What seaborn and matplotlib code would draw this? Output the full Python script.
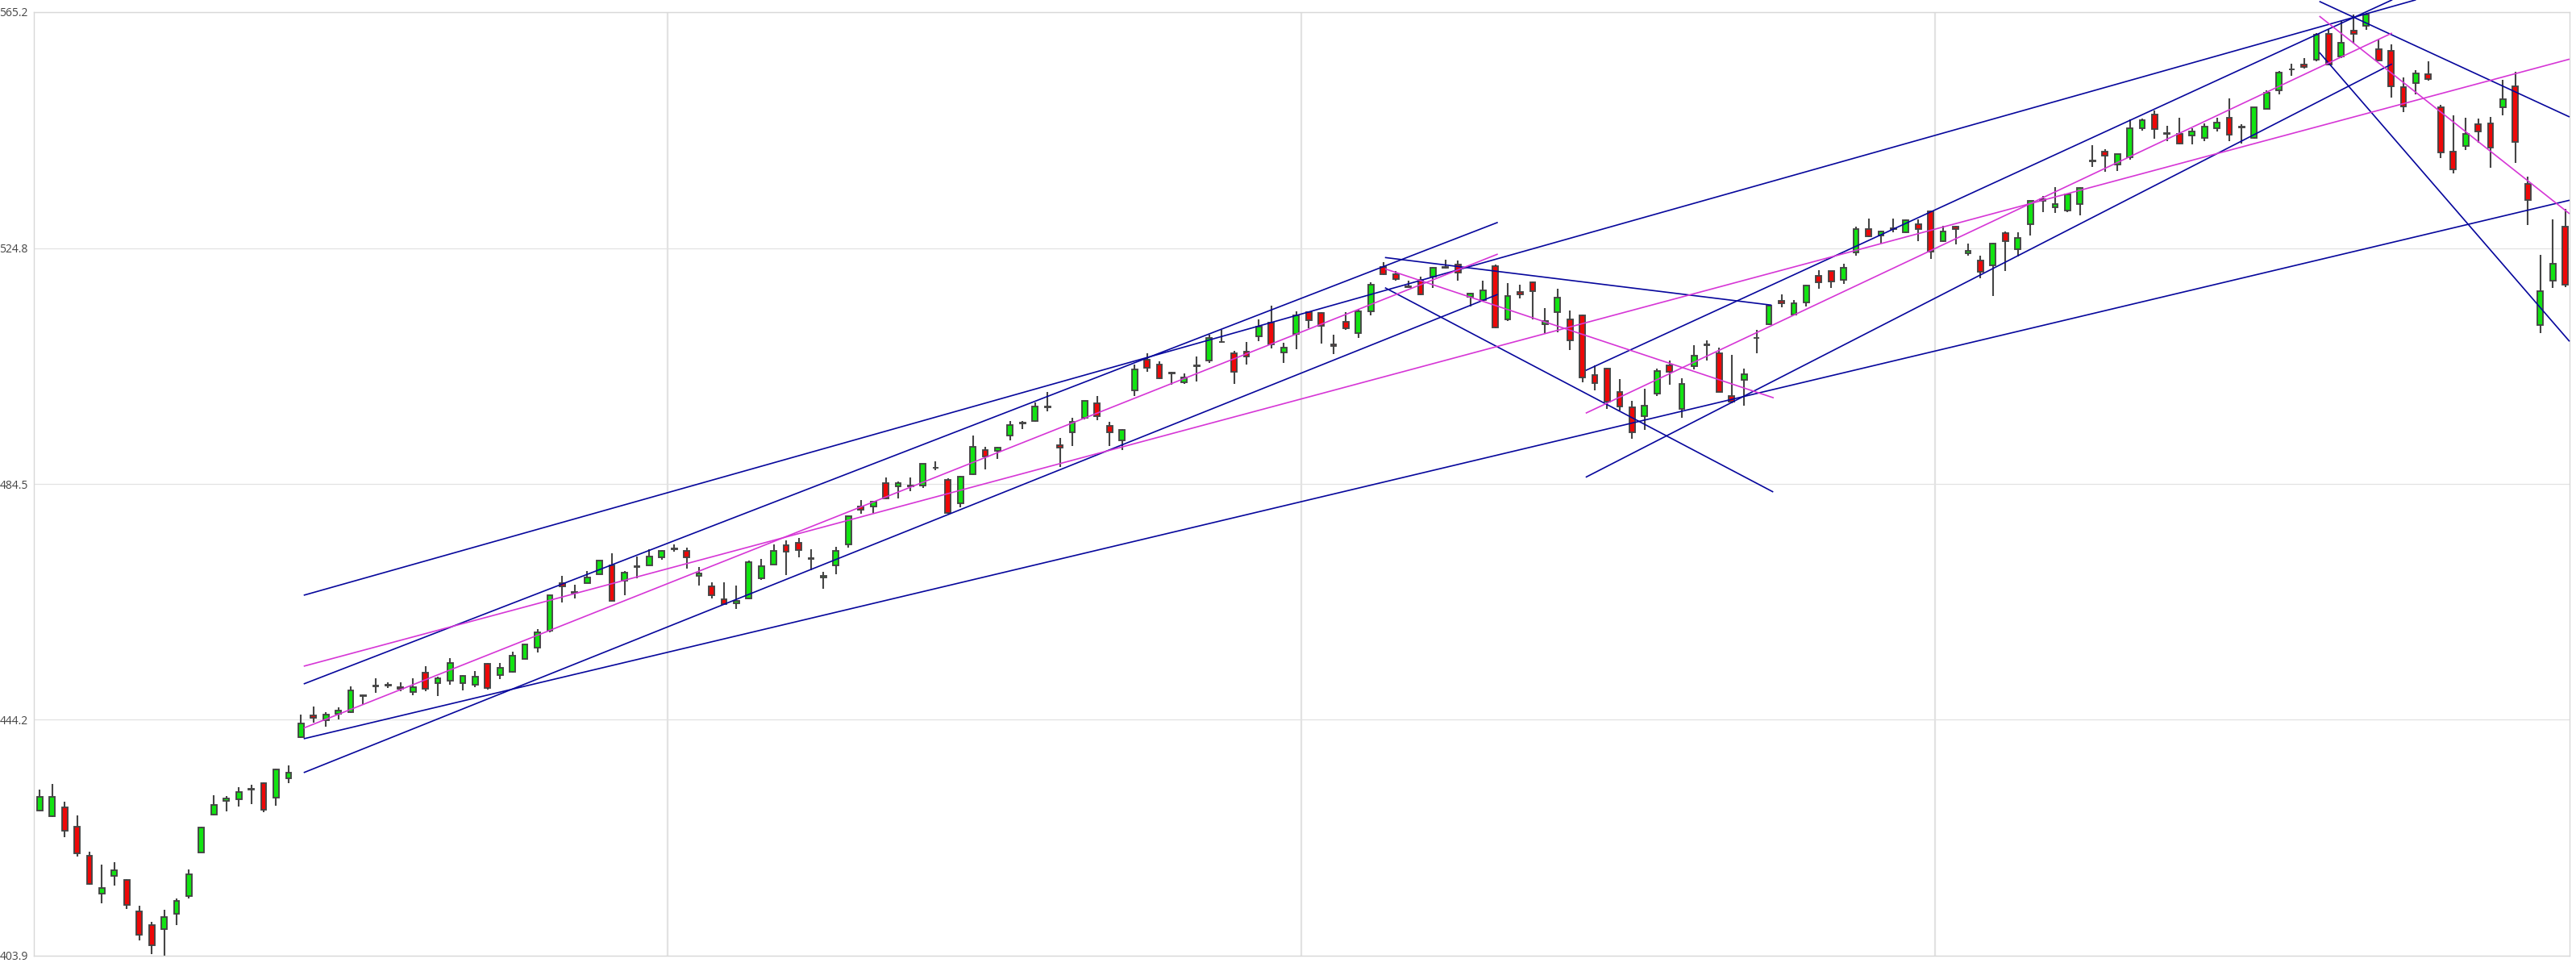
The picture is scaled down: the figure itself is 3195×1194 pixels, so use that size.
import numpy as np
import pandas as pd
import matplotlib
matplotlib.use("Agg")
import matplotlib.pyplot as plt
import seaborn as sns

# ---------------- data ----------------
opens = [428.72, 427.70, 429.27, 425.96, 421.04, 414.47, 417.59, 416.90, 411.48, 409.19,
         408.40, 411.11, 414.10, 421.59, 428.03, 430.42, 430.69, 432.25, 433.45, 430.87,
         434.23, 441.26, 445.03, 444.20, 445.26, 445.49, 448.35, 449.95, 450.15, 449.75,
         448.94, 452.25, 450.55, 450.87, 450.54, 450.18, 453.85, 451.92, 452.38, 454.68,
         456.61, 459.50, 467.55, 466.00, 467.64, 469.16, 470.63, 468.01, 470.40, 470.67,
         472.00, 473.38, 473.06, 468.79, 467.00, 464.88, 464.19, 465.02, 468.37, 470.76,
         474.07, 474.44, 471.73, 468.60, 470.67, 474.21, 480.64, 480.64, 484.70, 484.18,
         484.15, 484.32, 487.25, 485.24, 481.24, 486.16, 490.38, 490.15, 492.82, 494.85,
         495.35, 497.65, 491.21, 493.42, 495.81, 498.33, 494.43, 492.04, 500.54, 505.78,
         505.00, 503.45, 501.92, 504.65, 505.59, 508.75, 506.84, 507.16, 509.82, 512.12,
         507.07, 510.19, 513.87, 513.73, 508.44, 512.21, 510.37, 514.05, 521.68, 520.39,
         518.15, 519.38, 520.02, 521.50, 522.00, 516.49, 516.03, 521.77, 512.72, 517.41,
         519.01, 511.80, 513.96, 512.72, 513.41, 503.16, 504.31, 500.31, 497.65, 496.18,
         499.94, 504.86, 497.42, 504.63, 508.30, 506.84, 499.62, 502.33, 509.45, 511.90,
         515.90, 513.51, 515.57, 520.17, 520.95, 519.39, 524.08, 528.12, 527.06, 528.15,
         527.52, 528.99, 531.20, 526.01, 528.58, 523.98, 522.79, 521.92, 527.38, 524.67,
         528.99, 533.27, 531.89, 531.34, 532.35, 539.74, 541.31, 539.15, 540.39, 545.30,
         547.74, 544.35, 544.39, 544.06, 543.74, 545.30, 547.19, 545.55, 543.74, 548.66,
         551.88, 555.35, 556.24, 557.07, 561.53, 557.62, 562.08, 562.90, 558.86, 558.54,
         552.43, 553.12, 554.63, 548.98, 541.40, 542.36, 546.04, 546.22, 548.98, 552.56,
         535.79, 511.76, 519.25, 528.53]
highs = [432.30, 433.31, 430.19, 427.89, 421.68, 419.43, 419.85, 416.95, 412.49, 409.64,
         411.71, 413.64, 418.61, 425.90, 431.33, 431.15, 432.71, 433.08, 433.50, 435.93,
         436.39, 445.12, 446.50, 445.58, 446.41, 450.00, 448.57, 451.37, 450.60, 450.60,
         451.32, 453.39, 451.55, 454.77, 451.92, 452.61, 453.90, 453.90, 455.83, 457.10,
         459.74, 465.50, 468.83, 467.32, 469.61, 471.50, 472.69, 469.60, 472.14, 473.38,
         473.20, 474.21, 473.61, 470.30, 467.68, 467.68, 467.18, 471.40, 471.68, 474.21,
         474.90, 475.36, 473.38, 469.48, 473.75, 479.10, 481.79, 481.70, 485.60, 485.01,
         485.70, 488.00, 488.36, 485.56, 485.90, 492.82, 490.84, 490.90, 495.26, 495.30,
         498.43, 500.26, 492.45, 495.81, 498.80, 499.57, 495.12, 493.90, 505.00, 506.84,
         505.46, 503.71, 503.48, 506.38, 510.05, 510.83, 507.29, 508.81, 512.67, 514.97,
         508.67, 514.05, 514.05, 513.87, 510.05, 513.87, 514.30, 519.01, 522.46, 520.94,
         519.24, 519.93, 521.70, 522.92, 522.78, 517.20, 519.24, 522.09, 518.88, 518.55,
         519.10, 514.56, 517.86, 514.19, 513.50, 504.77, 504.45, 502.47, 498.79, 500.77,
         504.31, 505.69, 502.56, 508.21, 509.04, 507.89, 506.61, 504.22, 510.83, 515.10,
         516.95, 516.03, 518.60, 521.09, 521.00, 522.15, 528.53, 529.96, 527.80, 529.96,
         529.82, 529.82, 531.30, 528.67, 528.70, 525.68, 523.52, 525.80, 527.66, 527.52,
         533.00, 533.73, 535.24, 534.10, 535.33, 542.46, 541.77, 541.00, 546.82, 547.05,
         548.43, 545.76, 547.14, 545.30, 546.22, 547.14, 550.41, 545.99, 549.00, 551.88,
         555.09, 556.38, 557.30, 561.62, 562.31, 563.69, 564.74, 565.20, 560.47, 559.69,
         554.08, 555.32, 556.79, 549.35, 547.51, 547.19, 547.05, 547.28, 553.58, 554.95,
         537.03, 523.71, 529.82, 531.52]
lows = [428.60, 427.57, 424.12, 420.81, 416.10, 412.86, 415.85, 411.94, 406.57, 404.22,
        403.90, 409.19, 413.64, 421.50, 427.90, 428.58, 429.40, 429.86, 428.39, 429.50,
        433.45, 441.12, 443.74, 443.10, 444.34, 445.40, 446.96, 448.84, 449.70, 449.10,
        448.48, 449.17, 448.34, 450.18, 449.26, 449.86, 449.40, 451.24, 452.30, 454.60,
        455.69, 459.18, 464.24, 465.02, 467.60, 469.10, 464.50, 465.48, 468.37, 470.60,
        471.55, 472.97, 470.07, 467.18, 465.02, 463.90, 463.18, 464.90, 468.10, 470.70,
        468.93, 472.00, 469.84, 466.63, 469.06, 473.66, 479.40, 479.59, 481.90, 482.02,
        483.26, 483.86, 486.94, 479.40, 480.50, 486.10, 486.98, 488.78, 492.04, 493.97,
        495.10, 496.96, 487.40, 491.07, 495.60, 495.44, 491.07, 490.29, 499.62, 503.76,
        502.50, 501.55, 501.64, 502.01, 505.23, 508.70, 501.64, 505.00, 508.90, 507.76,
        505.23, 507.53, 511.20, 508.54, 506.70, 510.83, 509.46, 513.41, 520.30, 519.24,
        518.00, 516.80, 518.00, 521.30, 519.24, 514.88, 515.80, 511.20, 512.35, 516.26,
        512.67, 510.37, 510.40, 507.43, 501.92, 500.49, 497.42, 497.05, 492.27, 493.74,
        499.62, 501.46, 495.81, 504.08, 505.59, 500.20, 498.33, 497.87, 506.84, 511.67,
        514.79, 513.40, 514.89, 517.87, 518.01, 518.79, 523.52, 526.80, 525.68, 527.52,
        527.40, 526.01, 523.06, 525.90, 525.45, 523.62, 519.71, 516.63, 520.95, 523.39,
        527.06, 530.97, 530.83, 530.97, 530.42, 538.69, 537.86, 538.09, 539.93, 544.98,
        543.51, 543.14, 542.60, 542.55, 543.14, 544.75, 543.14, 542.69, 543.60, 548.60,
        551.19, 554.27, 555.55, 556.79, 556.10, 557.39, 559.83, 562.22, 556.80, 550.63,
        548.06, 551.19, 553.48, 540.25, 537.63, 541.63, 542.82, 538.55, 547.60, 539.47,
        528.76, 510.38, 518.01, 518.19]
closes = [431.01, 431.10, 425.27, 421.36, 416.17, 415.43, 418.51, 412.54, 407.48, 405.65,
          410.56, 413.23, 417.78, 425.82, 429.73, 430.78, 431.93, 432.40, 428.81, 435.70,
          435.24, 443.65, 444.57, 445.17, 445.77, 449.26, 448.45, 450.05, 450.25, 449.60,
          449.86, 449.53, 451.32, 453.99, 451.69, 451.60, 449.72, 453.16, 455.14, 457.07,
          459.18, 465.48, 467.09, 466.10, 468.60, 471.45, 464.56, 469.39, 470.50, 472.14,
          473.15, 473.48, 472.05, 469.29, 465.48, 463.96, 464.56, 471.22, 470.53, 473.15,
          472.97, 473.29, 471.83, 468.80, 473.06, 479.04, 480.18, 481.56, 482.10, 484.64,
          484.25, 487.99, 487.35, 479.58, 485.83, 490.89, 489.28, 490.71, 494.66, 494.95,
          497.78, 497.75, 490.75, 495.12, 498.70, 496.13, 493.37, 493.83, 504.17, 504.40,
          502.61, 503.55, 502.70, 504.75, 509.50, 508.85, 503.76, 506.38, 511.47, 508.44,
          507.87, 513.36, 512.58, 511.57, 508.08, 511.20, 514.05, 518.65, 520.39, 519.57,
          518.25, 516.95, 521.45, 521.60, 520.62, 517.08, 517.64, 511.34, 516.72, 516.95,
          517.50, 512.44, 516.35, 509.13, 502.70, 501.78, 498.66, 497.78, 493.37, 497.87,
          503.85, 503.76, 501.64, 506.47, 508.40, 500.26, 498.56, 503.30, 509.55, 514.98,
          515.44, 515.48, 518.42, 519.02, 519.16, 521.55, 528.07, 526.92, 527.66, 528.25,
          529.59, 528.07, 524.21, 527.75, 528.12, 524.44, 520.86, 525.68, 526.01, 526.60,
          532.94, 532.90, 532.35, 534.05, 535.20, 539.84, 540.71, 540.98, 545.35, 546.73,
          545.21, 544.45, 542.68, 544.84, 545.58, 546.36, 544.29, 545.65, 548.98, 551.42,
          554.86, 555.45, 555.78, 561.30, 556.24, 560.01, 561.43, 564.74, 556.93, 552.56,
          549.03, 554.77, 553.81, 541.17, 538.32, 544.43, 544.75, 542.00, 550.36, 543.01,
          533.03, 517.55, 522.14, 518.65]

y_ticks = [403.9, 444.225, 484.55, 524.875, 565.2]
y_tick_labels = ["403.9", "444.2", "484.5", "524.8", "565.2"]
period_breaks = [50.45, 101.4, 152.35]

# drawn trend lines: (start index, start price) -> (end index, end price)
trend_names = ["a", "b", "c", "d", "e", "f", "g", "h", "i", "j", "k", "l", "m", "n", "o"]
trend_kinds = ["blue", "blue", "blue", "blue", "magenta", "magenta",
               "blue", "blue", "magenta", "blue", "blue", "magenta",
               "blue", "blue", "magenta"]
trend_x0 = [21.22, 21.22, 21.22, 21.22, 21.22, 21.22, 108.13, 108.13, 108.13,
            124.27, 124.27, 124.27, 183.24, 183.24, 183.24]
trend_y0 = [465.52, 450.36, 435.20, 440.99, 453.39, 442.82, 523.25, 518.09, 521.32,
            485.69, 503.95, 496.64, 567.03, 558.31, 564.51]
trend_x1 = [191.0, 117.2, 117.2, 203.35, 203.35, 117.2, 139.2, 139.34, 139.38,
            189.08, 189.1, 189.08, 203.35, 203.35, 203.35]
trend_y1 = [567.3, 529.26, 516.95, 533.04, 557.16, 523.84, 515.11, 483.17, 499.26,
            556.34, 567.3, 561.62, 547.28, 508.91, 530.73]

# ---------------- style ----------------
sns.set_style("white")
plt.rcParams['font.family'] = ['Open Sans', 'DejaVu Sans']

GREEN = "#12e412"
RED = "#ee0808"
EDGE = "#454545"
GRID = "#e2e2e2"
LINE_COLORS = {"blue": "#06069c", "magenta": "#d636d6"}

W, H = 3195, 1194
fig = plt.figure(figsize=(W / 100, H / 100), dpi=100)
ax = fig.add_axes([42 / W, 1 - 1185 / H, (3187 - 42) / W, (1185 - 15) / H])

df = pd.DataFrame({"idx": np.arange(len(opens)), "open": opens, "high": highs,
                   "low": lows, "close": closes})
up = df["close"] >= df["open"]
body_colors = np.where(up, GREEN, RED)
body_bottom = np.minimum(df["open"], df["close"])
body_height = np.maximum((df["close"] - df["open"]).abs(), 0.12)

ax.vlines(df["idx"], df["low"], df["high"], color=EDGE, linewidth=1.5, zorder=2)
ax.bar(df["idx"], body_height, bottom=body_bottom, width=0.44, color=body_colors,
       edgecolor=EDGE, linewidth=1.35, zorder=3)

rows = []
for nm, kd, x0, y0, x1, y1 in zip(trend_names, trend_kinds, trend_x0, trend_y0, trend_x1, trend_y1):
    rows.append({"name": nm, "kind": kd, "x": x0, "y": y0})
    rows.append({"name": nm, "kind": kd, "x": x1, "y": y1})
tl = pd.DataFrame(rows)
n_before = len(ax.lines)
sns.lineplot(data=tl, x="x", y="y", hue="kind", units="name", estimator=None,
             palette=LINE_COLORS, sort=False, legend=False, linewidth=1.2, ax=ax)
for ln in ax.lines[n_before:]:
    ln.set_clip_on(False)
    ln.set_zorder(5)
    ln.set_solid_capstyle("butt")

ax.set_xlim(-0.473, 203.35)
ax.set_ylim(403.9, 565.2)
ax.set_yticks(y_ticks, labels=y_tick_labels)
ax.set_xticks(period_breaks, labels=[""] * len(period_breaks))
ax.set_xlabel("")
ax.set_ylabel("")
ax.set_axisbelow(True)
ax.grid(axis="y", color=GRID, linewidth=0.9)
ax.grid(axis="x", color=GRID, linewidth=1.6)
ax.tick_params(axis="y", length=4.3, width=0.9, color="#d4d4d4", pad=0.8,
               labelsize=10, labelcolor="#444444")
ax.tick_params(axis="x", length=0)
for sp in ax.spines.values():
    sp.set_color("#d8d8d8")
    sp.set_linewidth(1.0)

fig.savefig("out.png", dpi=100)
